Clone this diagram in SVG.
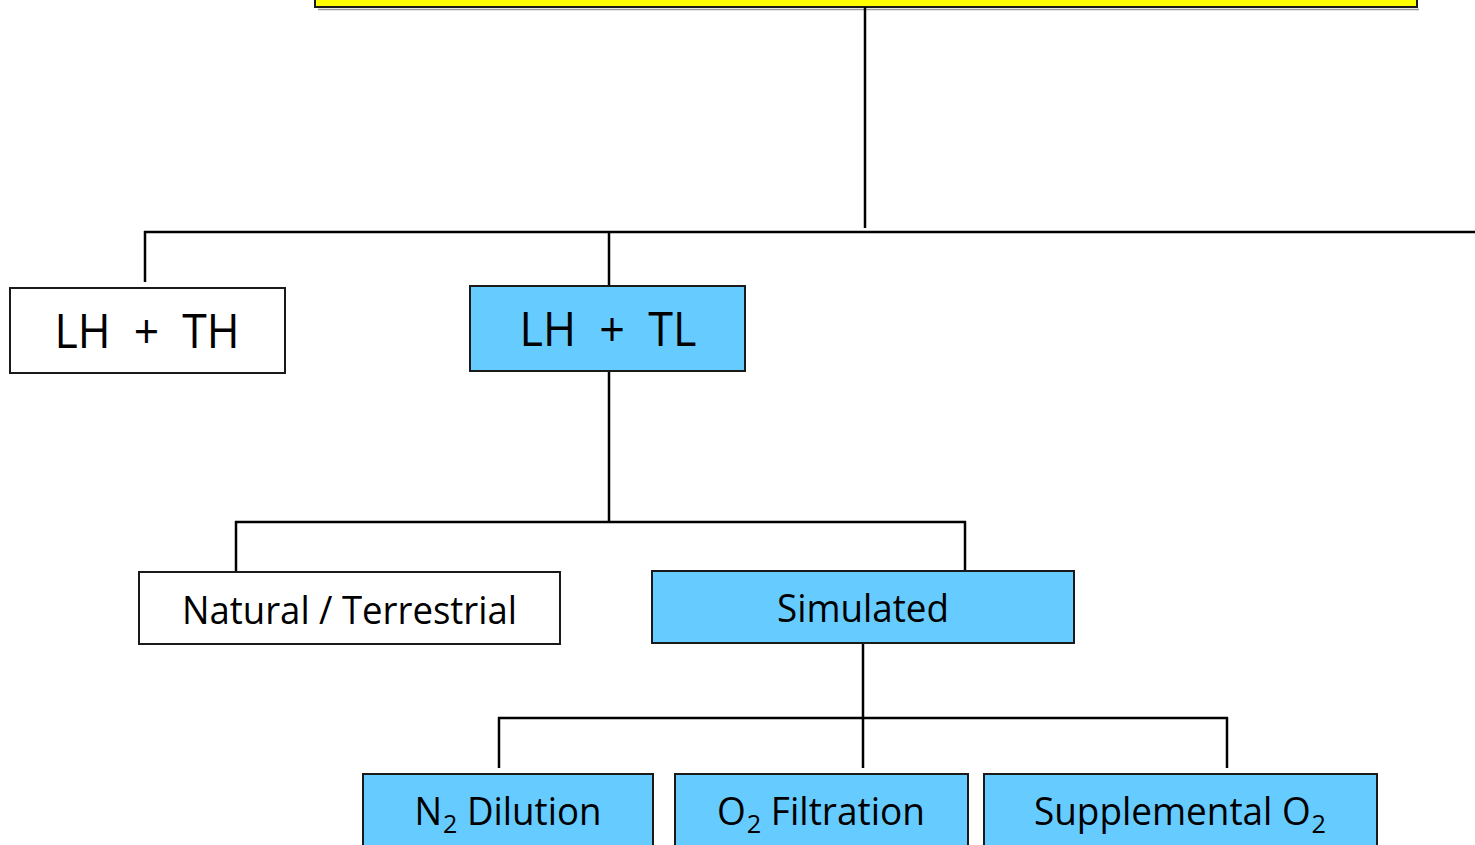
<svg xmlns="http://www.w3.org/2000/svg" width="1475" height="845" viewBox="0 0 1475 845">
  <style>
    .box { stroke: #1a1a1a; stroke-width: 2; }
    .plain { fill: #ffffff; }
    .blue { fill: #66ccff; }
    .top { fill: #ffff00; }
    .lbl { font-family: "Open Sans", "Noto Sans", "Liberation Sans", sans-serif; fill: #000; text-anchor: middle; }
    .big { font-size: 48px; }
    .mid { font-size: 38px; }
    .sub { font-size: 26px; }
    .wire { stroke: #000; stroke-width: 2.5; fill: none; }
  </style>

  <rect width="1475" height="845" fill="#ffffff"/>

  <!-- root box, only its bottom edge visible -->
  <g id="root">
    <line x1="318" y1="9.5" x2="1419" y2="9.5" stroke="#9a9a9a" stroke-width="1.5"/>
    <rect class="box top" x="315" y="-10" width="1102" height="17"/>
  </g>

  <!-- connectors -->
  <g id="connectors" class="wire">
    <line x1="865" y1="7" x2="865" y2="228"/>
    <line x1="144" y1="232" x2="1475" y2="232"/>
    <line x1="145" y1="231" x2="145" y2="282"/>
    <line x1="609" y1="233" x2="609" y2="286"/>
    <line x1="609" y1="371" x2="609" y2="522"/>
    <line x1="235" y1="522" x2="966" y2="522"/>
    <line x1="236" y1="521" x2="236" y2="572"/>
    <line x1="965" y1="521" x2="965" y2="571"/>
    <line x1="863" y1="643" x2="863" y2="768"/>
    <line x1="498" y1="718" x2="1228" y2="718"/>
    <line x1="499" y1="717" x2="499" y2="768"/>
    <line x1="1227" y1="717" x2="1227" y2="768"/>
  </g>

  <g id="lh-th">
    <rect class="box plain" x="10" y="288" width="275" height="85"/>
    <text class="lbl big" x="147" y="348" textLength="185" lengthAdjust="spacingAndGlyphs" xml:space="preserve">LH  +  TH</text>
  </g>

  <g id="lh-tl">
    <rect class="box blue" x="470" y="286" width="275" height="85"/>
    <text class="lbl big" x="608" y="346" textLength="177" lengthAdjust="spacingAndGlyphs" xml:space="preserve">LH  +  TL</text>
  </g>

  <g id="natural">
    <rect class="box plain" x="139" y="572" width="421" height="72"/>
    <text class="lbl mid" x="349.5" y="624" textLength="335" lengthAdjust="spacingAndGlyphs">Natural / Terrestrial</text>
  </g>

  <g id="simulated">
    <rect class="box blue" x="652" y="571" width="422" height="72"/>
    <text class="lbl mid" x="863" y="622" textLength="172" lengthAdjust="spacingAndGlyphs">Simulated</text>
  </g>

  <g id="n2-dilution">
    <rect class="box blue" x="363" y="774" width="290" height="80"/>
    <text class="lbl mid" x="508" y="825" textLength="187" lengthAdjust="spacingAndGlyphs">N<tspan class="sub" dx="1" dy="8">2</tspan><tspan dy="-8"> Dilution</tspan></text>
  </g>

  <g id="o2-filtration">
    <rect class="box blue" x="675" y="774" width="293" height="80"/>
    <text class="lbl mid" x="821" y="825" textLength="208" lengthAdjust="spacingAndGlyphs">O<tspan class="sub" dx="1" dy="8">2</tspan><tspan dy="-8"> Filtration</tspan></text>
  </g>

  <g id="supplemental-o2">
    <rect class="box blue" x="984" y="774" width="393" height="80"/>
    <text class="lbl mid" x="1180" y="825" textLength="292" lengthAdjust="spacingAndGlyphs">Supplemental O<tspan class="sub" dx="1" dy="8">2</tspan></text>
  </g>
</svg>
